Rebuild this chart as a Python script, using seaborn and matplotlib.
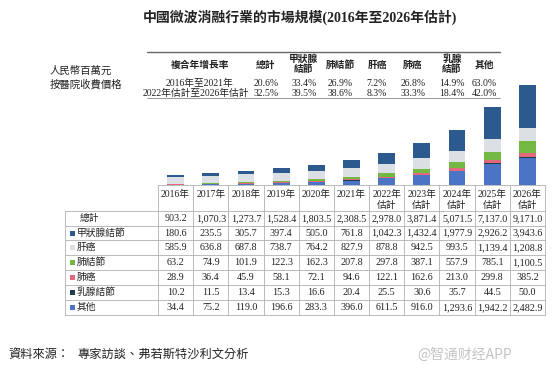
import matplotlib
matplotlib.use("Agg")
import matplotlib.pyplot as plt
from matplotlib.lines import Line2D
from matplotlib.patches import Rectangle
import seaborn as sns
import numpy as np

sns.set_style("white")
plt.rcParams['font.family'] = ['Liberation Serif', 'Noto Sans CJK TC', 'DejaVu Sans']

# data
years = ['2016年', '2017年', '2018年', '2019年', '2020年', '2021年',
         '2022年\n估計', '2023年\n估計', '2024年\n估計', '2025年\n估計', '2026年\n估計']
total = [903.2, 1070.3, 1273.7, 1528.4, 1803.5, 2308.5, 2978.0, 3871.4, 5071.5, 7137.0, 9171.0]
thyroid = [180.6, 235.5, 305.7, 397.4, 505.0, 761.8, 1042.3, 1432.4, 1977.9, 2926.2, 3943.6]
liver = [585.9, 636.8, 687.8, 738.7, 764.2, 827.9, 878.8, 942.5, 993.5, 1139.4, 1208.8]
lung_nodule = [63.2, 74.9, 101.9, 122.3, 162.3, 207.8, 297.8, 387.1, 557.9, 785.1, 1100.5]
lung_cancer = [28.9, 36.4, 45.9, 58.1, 72.1, 94.6, 122.1, 162.6, 213.0, 299.8, 385.2]
breast = [10.2, 11.5, 13.4, 15.3, 16.6, 20.4, 25.5, 30.6, 35.7, 44.5, 50.0]
others = [34.4, 75.2, 119.0, 196.6, 283.3, 396.0, 611.5, 916.0, 1293.6, 1942.2, 2482.9]

series_names = ['甲狀腺結節', '肝癌', '肺結節', '肺癌', '乳腺結節', '其他']
series_vals = [thyroid, liver, lung_nodule, lung_cancer, breast, others]
colors = ['#2c5a8e', '#dcdfe4', '#72b843', '#e2687c', '#1d3b4b', '#4b74c5']

cagr_headers = ['總計', '甲狀腺\n結節', '肺結節', '肝癌', '肺癌', '乳腺\n結節', '其他']
cagr_labels = ['2016年至2021年', '2022年估計至2026年估計']
cagr_1621 = ['20.6%', '33.4%', '26.9%', '7.2%', '26.8%', '14.9%', '63.0%']
cagr_2226 = ['32.5%', '39.5%', '38.6%', '8.3%', '33.3%', '18.4%', '42.0%']

W, H = 554, 372
fig = plt.figure(figsize=(W / 100, H / 100), dpi=100)


def fx(x):
    return x / W


def fy(y):
    return 1 - y / H


def hline(x0, x1, y, lw=0.6, color='#999999'):
    fig.add_artist(Line2D([fx(x0), fx(x1)], [fy(y), fy(y)], transform=fig.transFigure,
                          color=color, lw=lw))


def vline(x, y0, y1, lw=0.6, color='#999999'):
    fig.add_artist(Line2D([fx(x), fx(x)], [fy(y0), fy(y1)], transform=fig.transFigure,
                          color=color, lw=lw))


def txt(x, y, s, size=7, ha='center', **kw):
    fig.text(fx(x), fy(y), s, fontsize=size, ha=ha, va='center', color='#222222', **kw)


# title
txt(300, 17, '中國微波消融行業的市場規模(2016年至2026年估計)', size=10, weight='bold')

# top CAGR table
hline(147, 500, 52, lw=1.0, color='#666666')
hline(147, 500, 98, lw=0.6, color='#888888')
txt(50, 71, '人民幣百萬元', size=7.5, ha='left')
txt(50, 84, '按醫院收費價格', size=7.5, ha='left', style='italic')
txt(200, 65, '複合年增長率', size=7, weight='bold')
txt(200, 83, cagr_labels[0], size=7)
txt(196, 93, cagr_labels[1], size=7)
col_x = [266, 304, 340, 377, 413, 452, 484]
for cx, h, a, b in zip(col_x, cagr_headers, cagr_1621, cagr_2226):
    txt(cx, 64 if '\n' in h else 65, h, size=7, weight='bold', linespacing=1.1)
    txt(cx, 83, a, size=7)
    txt(cx, 93, b, size=7)

# stacked bars
x_left, x_right = 158, 545
ax = fig.add_axes([fx(x_left), fy(185), fx(x_right) - fx(x_left), (185 - 85) / H])
order = [5, 4, 3, 2, 1, 0]  # bottom to top: 其他, 乳腺, 肺癌, 肺結節, 肝癌, 甲狀腺
bottom = np.zeros(len(years))
for i in order:
    vals = np.array(series_vals[i])
    sns.barplot(x=years, y=vals, bottom=bottom, color=colors[i], width=0.48,
                saturation=1, errorbar=None, ax=ax, linewidth=0)
    bottom = bottom + vals
ax.set_xlim(-0.5, len(years) - 0.5)
ax.set_ylim(0, max(total))
ax.axis('off')

# bottom data table
col_w = (x_right - x_left) / len(years)
row_edges = [211, 226, 240, 255, 270, 285, 300, 315]
grid = '#b0b0b0'
hline(x_left, x_right, 185, color=grid)
for y in row_edges:
    hline(65, x_right, y, color=grid)
for k in range(len(years) + 1):
    vline(x_left + k * col_w, 185, 315, color=grid)
vline(65, 211, 315, color=grid)

for k, yl in enumerate(years):
    cx = x_left + (k + 0.5) * col_w
    if '\n' in yl:
        a, b = yl.split('\n')
        txt(cx, 194, a, size=7)
        txt(cx, 205, b, size=7)
    else:
        txt(cx, 194, yl, size=7)

rows = [('總計', total, None)] + [(n, v, c) for n, v, c in zip(series_names, series_vals, colors)]
for r, (name, vals, c) in enumerate(rows):
    cy = (row_edges[r] + row_edges[r + 1]) / 2
    if c is None:
        txt(80, cy, name, size=7, ha='left')
    else:
        fig.add_artist(Rectangle((fx(70), fy(cy + 2.5)), 5 / W, 5 / H,
                                 transform=fig.transFigure, color=c, lw=0))
        txt(77, cy, name, size=7, ha='left')
    for k, v in enumerate(vals):
        cx = x_left + (k + 0.5) * col_w
        txt(cx, cy, f'{v:,.1f}', size=7.3)

# source and watermark
txt(8, 355, '資料來源：', size=8.8, ha='left', style='italic')
txt(77, 355, '專家訪談、弗若斯特沙利文分析', size=8.8, ha='left', style='italic')
fig.text(fx(512), fy(355), '@智通财经APP', fontsize=10, ha='right', va='center',
         color='#c4c4c4', family=['Noto Sans CJK SC', 'DejaVu Sans'])

fig.savefig('out.png', dpi=100)
